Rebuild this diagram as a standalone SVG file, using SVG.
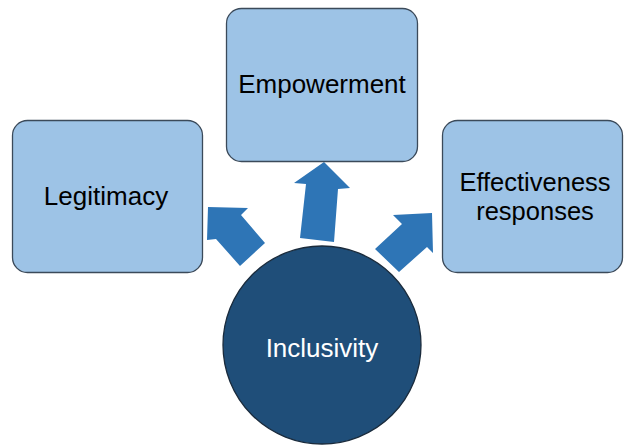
<svg xmlns="http://www.w3.org/2000/svg" width="624" height="446" viewBox="0 0 624 446">
<style>
.box{fill:#9dc3e6;stroke:#3b4a5a;stroke-width:1.3}
.lbl{font-family:"Liberation Sans",Arial,sans-serif;font-size:26px;fill:#000;text-anchor:middle}
.arrow{fill:#2e75b6}
</style>
<rect width="624" height="446" fill="#fff"/>
<g id="connectors">
<polygon class="arrow" points="324,162 350,188 338,189 334,242 300,238 306,184 294,183"/>
<polygon class="arrow" points="208,207 248,208 241,215 265,243 240,266 216,239 207,240"/>
<polygon class="arrow" points="432,213 433,253 427,247 399,272 375,249 402,224 393,215"/>
</g>
<g id="empowerment">
<rect class="box" x="226.5" y="8.5" width="191" height="153" rx="15"/>
<text class="lbl" x="322" y="93">Empowerment</text>
</g>
<g id="legitimacy">
<rect class="box" x="12.5" y="120.5" width="190" height="152" rx="15"/>
<text class="lbl" x="106" y="205">Legitimacy</text>
</g>
<g id="effectiveness">
<rect class="box" x="442.5" y="120.5" width="180" height="152" rx="15"/>
<text class="lbl" x="535" y="191" style="font-size:25.5px">Effectiveness</text>
<text class="lbl" x="535" y="219.5" style="font-size:25.5px">responses</text>
</g>
<g id="inclusivity">
<circle cx="322" cy="345" r="99" fill="#1f4e79" stroke="#1a2b3c" stroke-width="1.3"/>
<text class="lbl" x="322" y="357" style="fill:#fff">Inclusivity</text>
</g>
</svg>
